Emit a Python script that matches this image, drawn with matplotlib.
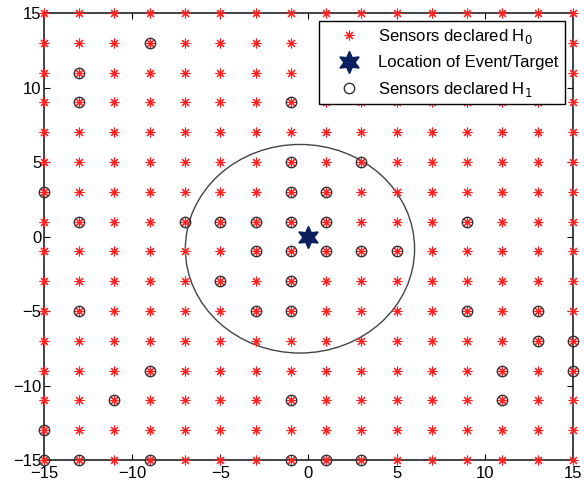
import matplotlib
matplotlib.use('Agg')
import matplotlib.pyplot as plt
import numpy as np
from matplotlib.patches import Ellipse

plt.rcParams['font.family'] = ['Liberation Sans', 'DejaVu Sans']

# sensor grid (odd coordinates)
grid_x = [-15, -13, -11, -9, -7, -5, -3, -1, 1, 3, 5, 7, 9, 11, 13, 15]
grid_y = [-15, -13, -11, -9, -7, -5, -3, -1, 1, 3, 5, 7, 9, 11, 13, 15]

# sensors that declared H1
h1_x = [-9, -13, -13, -1, -1, 3, -15, -1, 1, -13, -7, -5, -3, -1, 1, 9,
        -3, -1, 1, 3, 5, -5, -1, -13, -3, -1, 9, 13, 13, 15, -9, 11, 15,
        -11, -1, 11, -15, -15, -13, -9, -1, 1, 3]
h1_y = [13, 11, 9, 9, 5, 5, 3, 3, 3, 1, 1, 1, 1, 1, 1, 1,
        -1, -1, -1, -1, -1, -3, -3, -5, -5, -5, -5, -5, -7, -7, -9, -9, -9,
        -11, -11, -11, -13, -15, -15, -15, -15, -15, -15]

# event location and detection region
target = (0, 0)
region_center = (-0.48, -0.82)
region_w, region_h = 13.0, 14.0

fig = plt.figure(figsize=(5.84, 4.84), dpi=100)
ax = fig.add_axes((0.0753, 0.0496, 0.9057, 0.9234))

gx, gy = np.meshgrid(grid_x, grid_y)
ax.plot(gx.ravel(), gy.ravel(), linestyle='none', marker=(8, 2, 0),
        markersize=7, markeredgewidth=0.8, color='#ff2020',
        label='Sensors declared H$_0$', clip_on=False, zorder=3)
ax.plot(target[0], target[1], linestyle='none', marker=(6, 1, 0),
        markersize=16, color='#0b1f5e', label='Location of Event/Target', zorder=5)
ax.plot(h1_x, h1_y, linestyle='none', marker='o', markersize=7.5,
        markerfacecolor='none', markeredgecolor='#333333', markeredgewidth=1.0,
        label='Sensors declared H$_1$', clip_on=False, zorder=4)

el = Ellipse(xy=region_center, width=region_w, height=region_h,
             fc='none', ec='#444444', lw=1.0, zorder=2)
ax.add_patch(el)

ax.set_xlim(-15, 15)
ax.set_ylim(-15, 15)
ax.set_xticks([-15, -10, -5, 0, 5, 10, 15])
ax.set_yticks([-15, -10, -5, 0, 5, 10, 15])
ax.tick_params(direction='in', length=4, width=0.8, top=True, right=True,
               labelsize=12, pad=2)
ax.tick_params(axis='x', pad=4)
for s in ax.spines.values():
    s.set_linewidth(1.2)
    s.set_color('#222222')

leg = ax.legend(loc='upper right', fontsize=12, frameon=True, fancybox=False,
                framealpha=1.0, edgecolor='black', borderaxespad=0.5,
                handletextpad=0.3, labelspacing=0.55, borderpad=0.35,
                handlelength=2.9)
leg.set_zorder(10)
leg.get_frame().set_linewidth(1.0)

fig.savefig('out.png', dpi=100)
